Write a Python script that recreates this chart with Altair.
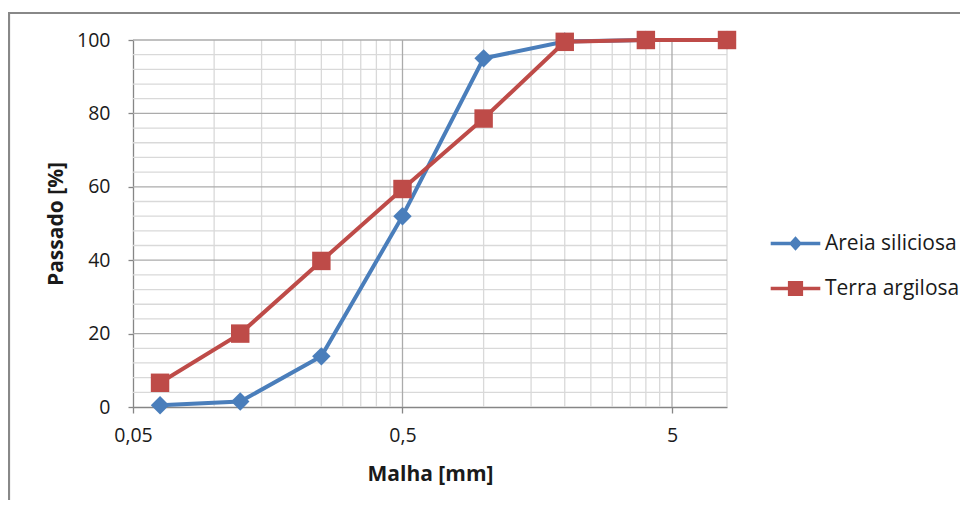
import altair as alt
import pandas as pd

# ---- data ----
sieve_mm = [0.063, 0.125, 0.25, 0.5, 1, 2, 4, 8]
areia_siliciosa = [0.5, 1.5, 13.8, 52.0, 95.0, 99.6, 100, 100]
terra_argilosa = [6.6, 20.0, 39.8, 59.4, 78.6, 99.5, 100, 100]
series_names = ["Areia siliciosa", "Terra argilosa"]
series_colors = ["#4A7EBB", "#BE4B48"]

x_ticks = [0.05, 0.5, 5]
y_ticks = [0, 20, 40, 60, 80, 100]
x_minor_grid = [0.1, 0.15, 0.2, 0.25, 0.3, 0.35, 0.4, 0.45,
                1, 1.5, 2, 2.5, 3, 3.5, 4, 4.5, 8]
x_major_grid = [0.5, 5]
y_minor_grid = [4, 8, 12, 16, 24, 28, 32, 36, 44, 48, 52, 56,
                64, 68, 72, 76, 84, 88, 92, 96]
y_major_grid = [20, 40, 60, 80, 100]

FONT = "Open Sans"
TXT = "#1a1a1a"
AXIS_GRAY = "#868686"
FS_TICK = 19.5
FS_TITLE = 21
FS_LEG = 21

rows = []
for name, vals in zip(series_names, [areia_siliciosa, terra_argilosa]):
    for m, v in zip(sieve_mm, vals):
        rows.append({"malha": m, "passado": v, "serie": name})
df = pd.DataFrame(rows)

x_scale = alt.Scale(type="log", domain=[0.05, 8], nice=False)
y_scale = alt.Scale(domain=[0, 100], nice=False, zero=False)

x_axis = alt.Axis(values=x_ticks, labelExpr="replace(toString(datum.value), '.', ',')",
                  grid=False, tickSize=6, tickColor=AXIS_GRAY, domainColor=AXIS_GRAY,
                  domainWidth=1.3, tickWidth=1.3,
                  labelFont=FONT, labelFontSize=FS_TICK, labelColor=TXT, labelPadding=13,
                  labelFlush=False, labelOverlap=False,
                  title="Malha [mm]", titleFont=FONT, titleFontSize=FS_TITLE,
                  titleFontWeight="bold", titleColor=TXT, titlePadding=19)
y_axis = alt.Axis(values=y_ticks, grid=False, tickSize=5, tickColor=AXIS_GRAY,
                  domainColor=AXIS_GRAY, domainWidth=1.3, tickWidth=1.3,
                  labelFont=FONT, labelFontSize=FS_TICK, labelColor=TXT, labelPadding=18,
                  title="Passado [%]", titleFont=FONT, titleFontSize=FS_TITLE,
                  titleFontWeight="bold", titleColor=TXT, titlePadding=10)

X = lambda f: alt.X(f, scale=x_scale, axis=x_axis)
Y = lambda f: alt.Y(f, scale=y_scale, axis=y_axis)

# gridlines
g_xmin = alt.Chart(pd.DataFrame({"malha": x_minor_grid})).mark_rule(
    color="#D9D9D9", strokeWidth=1.3).encode(x=X("malha:Q"))
g_xmaj = alt.Chart(pd.DataFrame({"malha": x_major_grid})).mark_rule(
    color="#ABABAB", strokeWidth=1.3).encode(x=X("malha:Q"))
g_ymin = alt.Chart(pd.DataFrame({"passado": y_minor_grid})).mark_rule(
    color="#D9D9D9", strokeWidth=1.3).encode(y=Y("passado:Q"))
g_ymaj = alt.Chart(pd.DataFrame({"passado": y_major_grid})).mark_rule(
    color="#ABABAB", strokeWidth=1.3).encode(y=Y("passado:Q"))


def series_layers(name, color, shape):
    base = alt.Chart(df).transform_filter(alt.datum.serie == name)
    line = base.mark_line(color=color, strokeWidth=4).encode(
        x=X("malha:Q"), y=Y("passado:Q"))
    pts = base.mark_point(shape=shape, filled=True, color=color, opacity=1, size=340).encode(
        x=X("malha:Q"), y=Y("passado:Q"))
    return [line, pts]

# legend symbols: line with marker (custom paths, unit box -1..1)
leg_diamond = ("M-3.1,-0.22 H3.1 V0.22 H-3.1 Z "
               "M0,-0.9 L0.82,0 L0,0.9 L-0.82,0 Z")
leg_square = ("M-3.1,-0.22 H3.1 V0.22 H-3.1 Z "
              "M-0.95,-0.95 H0.95 V0.95 H-0.95 Z")

legend = alt.Legend(title=None, orient="none", legendX=652, legendY=193,
                    symbolSize=256, symbolStrokeWidth=0, symbolOpacity=1,
                    labelFont=FONT, labelFontSize=FS_LEG, labelColor=TXT,
                    labelOffset=19, rowPadding=23)
legend_layer = alt.Chart(df).mark_point(filled=True, opacity=0, size=256).encode(
    x=X("malha:Q"), y=Y("passado:Q"),
    color=alt.Color("serie:N", scale=alt.Scale(domain=series_names, range=series_colors),
                    legend=legend),
    shape=alt.Shape("serie:N", scale=alt.Scale(domain=series_names,
                                               range=[leg_diamond, leg_square]),
                    legend=legend),
)

border = alt.Chart(pd.DataFrame({"a": [0]})).mark_rect(
    fill=None, stroke="#888888", strokeWidth=2.2).encode(
    x=alt.value(-124), x2=alt.value(860), y=alt.value(-27), y2=alt.value(490))

layers = [border, g_ymin, g_xmin, g_ymaj, g_xmaj]
layers += series_layers(series_names[0], series_colors[0], "diamond")
layers += series_layers(series_names[1], series_colors[1], "square")
layers += [legend_layer]

chart = alt.layer(*layers).properties(
    width=594, height=367,
    autosize=alt.AutoSizeParams(type="none"),
    padding={"left": 125, "top": 32, "right": 233, "bottom": 93},
    background="white",
).configure_view(stroke=None)

chart.save("out.html", embed_options={"renderer": "svg", "actions": False})
